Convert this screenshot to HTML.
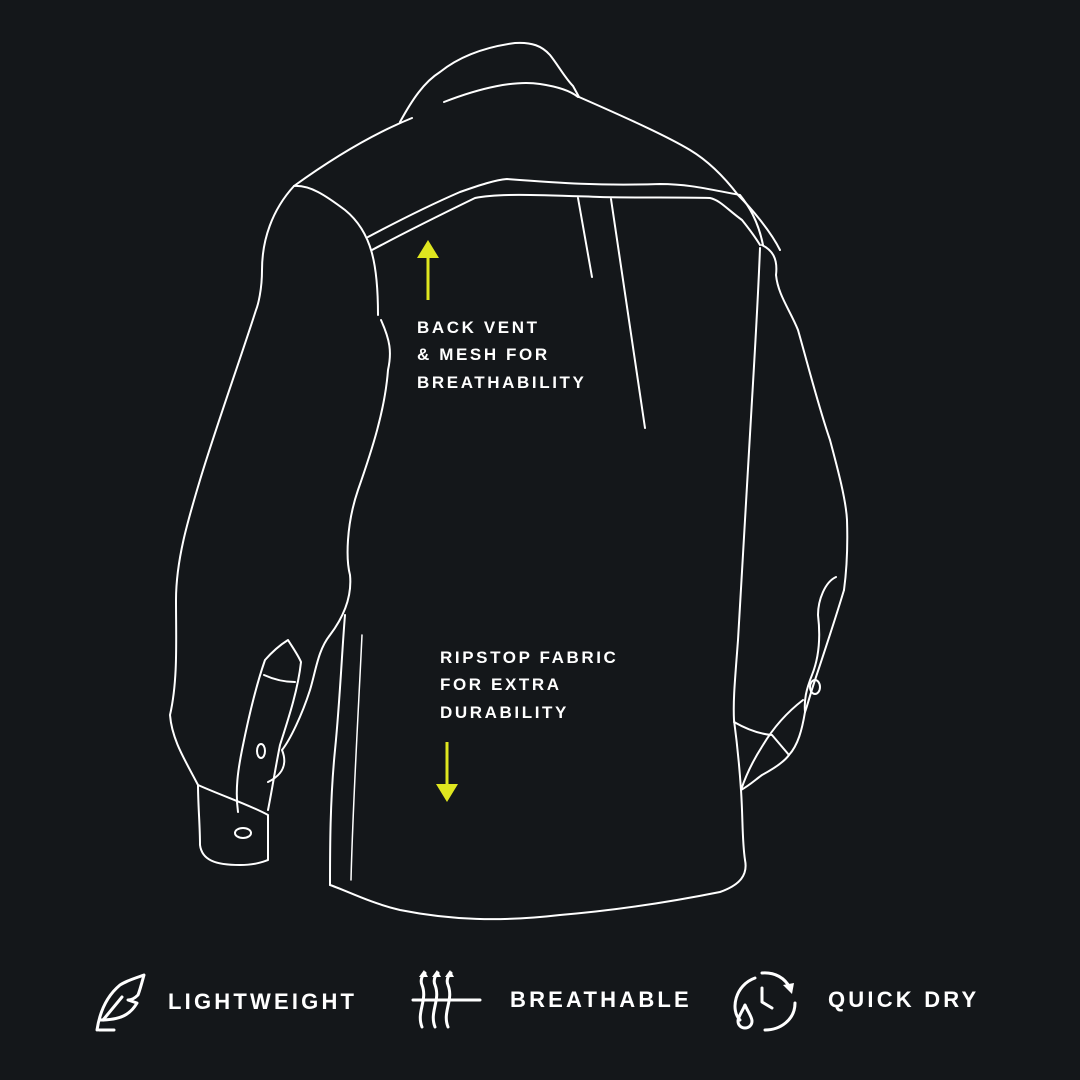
<!DOCTYPE html>
<html><head><style>
html,body{margin:0;padding:0;background:#14171a;}
svg{display:block}
text{font-family:"Liberation Sans",sans-serif;font-weight:bold;fill:#fff;}
</style></head><body>
<svg width="1080" height="1080" viewBox="0 0 1080 1080" xmlns="http://www.w3.org/2000/svg">
<rect width="1080" height="1080" fill="#14171a"/>
<g fill="none" stroke="#fff" stroke-width="2" stroke-linecap="round" stroke-linejoin="round">
<!-- collar -->
<path d="M400,122 C412,100 424,82 440,72 C460,56 485,47 515,43 C532,42 542,46 550,55 C558,65 565,78 573,86 L579,97"/>
<path d="M444,102 C480,88 515,80 540,84 C560,87 572,92 578,97"/>
<!-- shoulders -->
<path d="M412,118 C370,135 330,160 294,186"/>
<path d="M579,97 C620,115 665,135 690,150 C710,162 725,178 738,195 C750,207 770,230 780,250"/>
<!-- left sleeve outer -->
<path d="M294,186 C272,210 262,240 262,270 C262,290 258,305 256,310 C240,360 215,430 200,480 C188,520 176,560 176,600 C176,640 178,680 170,715 C172,740 185,760 198,785"/>
<!-- sleeve inner seam -->
<path d="M294,186 C310,185 325,195 345,210 C372,232 378,265 378,315"/>
<!-- body left -->
<path d="M381,320 C390,340 392,352 388,370 C385,410 372,450 358,490 C346,525 346,560 350,575 C352,595 345,615 330,635 C318,650 316,670 310,690 C302,715 290,740 282,750 C288,765 282,775 268,782"/>
<!-- yokes -->
<path d="M368,237 C400,220 430,205 460,192 C480,185 495,180 507,179 C560,183 600,186 660,184 C690,184 712,190 740,195 C748,205 758,220 763,245"/>
<path d="M372,250 C400,235 440,215 475,198 C500,193 540,195 600,197 C640,198 680,197 710,198 C720,200 728,210 742,220 C750,230 757,240 760,245"/>
<path d="M578,198 L592,277"/>
<path d="M611,199 L645,428"/>
<!-- right side -->
<path d="M762,245 C772,250 778,258 776,275 C778,295 790,310 798,330 C808,365 818,405 830,440 C838,470 846,500 847,520 C848,550 846,575 844,590"/>
<path d="M760,248 C758,300 755,350 752,400 C748,480 742,560 738,640 C735,680 733,700 734,720 C738,750 740,775 741,790 C743,820 742,840 745,860 C748,875 740,885 720,892 C680,900 620,910 560,915 C500,922 450,920 400,910 C370,903 345,890 330,885"/>
<path d="M330,885 C330,850 330,800 335,750 C340,700 342,650 345,615"/>
<path d="M362,635 C358,720 353,800 351,880" stroke-width="1.5"/>
<!-- right cuff -->
<path d="M734,722 C748,730 760,734 772,735 L789,755"/>
<path d="M844,590 C835,620 825,650 815,680 C810,695 806,710 805,712"/>
<path d="M836,577 C825,582 818,600 818,615 C821,640 818,660 812,675 C806,690 804,700 805,712"/>
<path d="M803,700 C790,710 775,725 763,745 C752,762 745,778 741,790"/>
<path d="M741,790 C750,785 755,780 762,775 C775,768 784,762 789,755 C798,745 802,730 805,712"/>
<ellipse cx="815" cy="687" rx="5" ry="7"/>
<!-- left cuff and placket -->
<path d="M198,785 C198,805 200,825 200,845 C202,860 215,865 240,865 C255,865 262,862 268,860 L268,815 C250,805 225,797 198,785"/>
<path d="M238,812 C235,790 238,770 242,750 C250,710 258,680 265,660 C272,652 280,645 288,640 C293,648 298,655 301,662 C298,690 288,720 280,745 C275,770 272,790 268,810"/>
<path d="M264,675 C275,680 285,682 295,682"/>
<ellipse cx="261" cy="751" rx="4" ry="7"/>
<ellipse cx="243" cy="833" rx="8" ry="5"/>
</g>
<!-- arrows -->
<g stroke="#dfe61f" stroke-width="3" fill="#dfe61f">
<line x1="428" y1="300" x2="428" y2="255"/>
<polygon points="417,258 439,258 428,240" stroke="none"/>
<line x1="447" y1="742" x2="447" y2="787"/>
<polygon points="436,784 458,784 447,802" stroke="none"/>
</g>
<g font-size="17" letter-spacing="2.6">
<text x="417" y="333">BACK VENT</text>
<text x="417" y="360">&amp; MESH FOR</text>
<text x="417" y="388">BREATHABILITY</text>
<text x="440" y="663">RIPSTOP FABRIC</text>
<text x="440" y="690">FOR EXTRA</text>
<text x="440" y="718">DURABILITY</text>
</g>
<g font-size="22" letter-spacing="3.2">
<text x="168" y="1009">LIGHTWEIGHT</text>
<text x="510" y="1007">BREATHABLE</text>
<text x="828" y="1007">QUICK DRY</text>
</g>
<!-- icons -->
<g fill="none" stroke="#fff" stroke-width="3" stroke-linecap="round" stroke-linejoin="round">
<path d="M97,1030 C100,1010 108,995 120,985 C128,980 136,978 144,975 C142,982 140,990 138,995 C135,998 132,1000 128,1000 L137,1003 C130,1015 120,1020 100,1020"/>
<path d="M103,1020 L122,997"/>
<line x1="99" y1="1030" x2="114" y2="1030"/>
<line x1="413" y1="1000" x2="480" y2="1000"/>
<path d="M422,1027 C416,1012 428,1000 422,985 C420,980 422,976 425,973"/>
<path d="M435,1027 C429,1012 441,1000 435,985 C433,980 435,976 438,973"/>
<path d="M448,1027 C442,1012 454,1000 448,985 C446,980 448,976 451,973"/>
<path d="M755,978 C735,985 730,1010 740,1020"/>
<path d="M762,973 C775,972 785,978 790,988"/>
<path d="M795,1003 C795,1020 780,1030 765,1030"/>
<path d="M762,988 L762,1002 L772,1008"/>
<path d="M745,1005 C742,1012 738,1017 738,1021 C738,1026 742,1028 745,1028 C748,1028 752,1026 752,1021 C752,1017 748,1012 745,1005"/>
</g>
<g fill="#fff">
<polygon points="419,977 428,977 424,970"/>
<polygon points="432,977 441,977 437,970"/>
<polygon points="445,977 454,977 450,970"/>
<polygon points="783,985 794,983 792,994"/>
</g>
</svg>
</body></html>
